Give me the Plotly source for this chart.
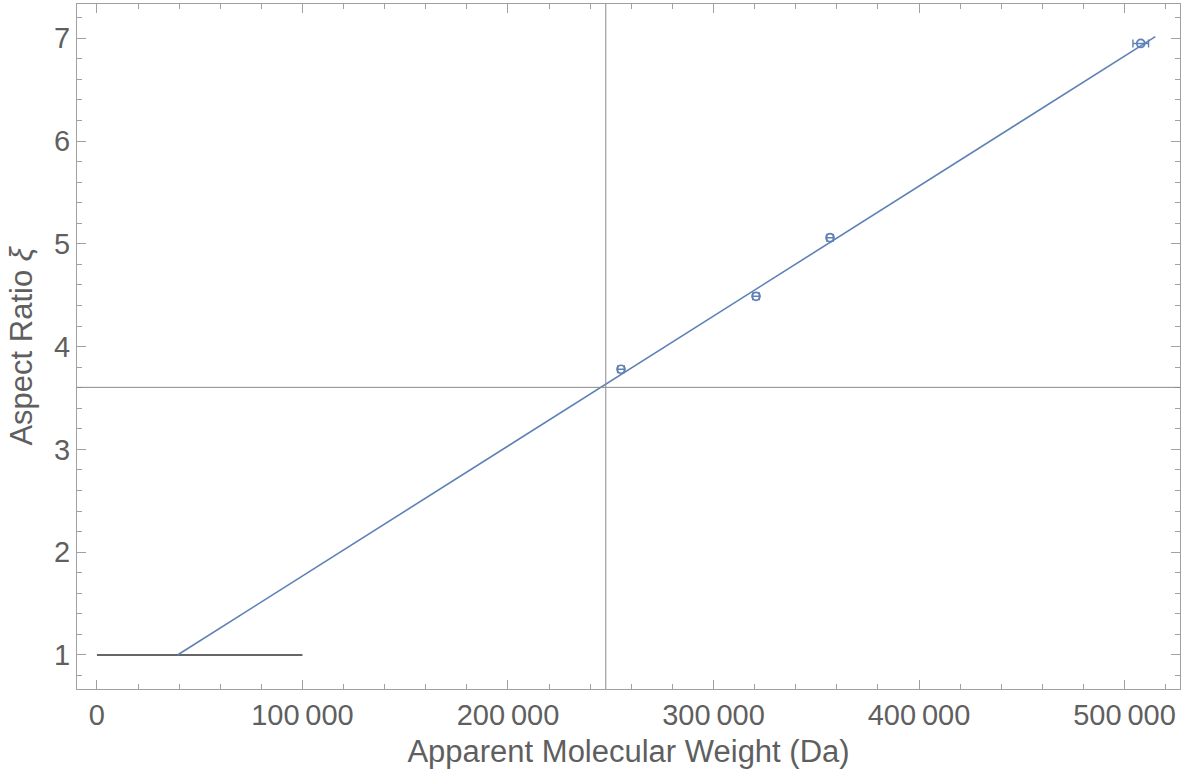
import plotly.graph_objects as go

# Measured aspect ratios vs apparent molecular weight
mw = [255000, 320700, 356700, 507900]
ratio = [3.78, 4.49, 5.06, 6.95]
mw_err = [1600, 1600, 1600, 3800]

# Linear fit, starting from the sphere limit (xi = 1)
fit_x = [39200, 515000]
fit_y = [1.0, 7.016]

# Sphere baseline xi = 1
base_x = [0, 100000]
base_y = [1.0, 1.0]

# Reference crosshair
cross_x = 247600
cross_y = 3.604

x_ticks = [0, 100000, 200000, 300000, 400000, 500000]
x_ticktext = ["0", "100\u2009000", "200\u2009000", "300\u2009000", "400\u2009000", "500\u2009000"]
y_ticks = [1, 2, 3, 4, 5, 6, 7]

blue = "#5E81B5"
frame = "#A0A0A0"
textc = "#5F5F5F"

fig = go.Figure()

fig.add_trace(go.Scatter(x=base_x, y=base_y, mode="lines",
                         line=dict(color="#333333", width=1.4), hoverinfo="skip"))
fig.add_trace(go.Scatter(x=fit_x, y=fit_y, mode="lines",
                         line=dict(color=blue, width=1.6), hoverinfo="skip"))
fig.add_trace(go.Scatter(
    x=mw, y=ratio, mode="markers",
    marker=dict(symbol="circle-open", size=8, color=blue, line=dict(width=1.7, color=blue)),
    error_x=dict(type="data", array=mw_err, color=blue, thickness=1.4, width=4),
))

fig.add_vline(x=cross_x, line=dict(color="#8A8A8A", width=1))
fig.add_hline(y=cross_y, line=dict(color="#8A8A8A", width=1))

fig.update_layout(
    width=1182, height=776,
    margin=dict(l=77, r=2, t=4, b=87),
    paper_bgcolor="white", plot_bgcolor="white",
    showlegend=False,
    font=dict(family="Liberation Sans, Arial, sans-serif", size=29, color=textc),
)

fig.update_xaxes(
    range=[-9700, 527000],
    tickvals=x_ticks, ticktext=x_ticktext,
    ticks="inside", ticklen=9, tickcolor=frame, tickwidth=1,
    minor=dict(dtick=20000, tick0=0, ticks="inside", ticklen=5, tickcolor=frame),
    showline=True, linecolor=frame, linewidth=1, mirror="allticks",
    showgrid=False, zeroline=False,
    title=dict(text="Apparent Molecular Weight (Da)", standoff=10,
               font=dict(size=31, color=textc)),
    tickfont=dict(size=29, color=textc),
)
fig.update_yaxes(
    range=[0.669, 7.334],
    tickvals=y_ticks,
    ticks="inside", ticklen=9, tickcolor=frame, tickwidth=1,
    minor=dict(dtick=0.2, tick0=0, ticks="inside", ticklen=5, tickcolor=frame),
    showline=True, linecolor=frame, linewidth=1, mirror="allticks",
    showgrid=False, zeroline=False,
    title=dict(text="Aspect Ratio <i>ξ</i>", standoff=12,
               font=dict(size=31, color=textc)),
    tickfont=dict(size=29, color=textc),
)

fig.write_html("out.html")
